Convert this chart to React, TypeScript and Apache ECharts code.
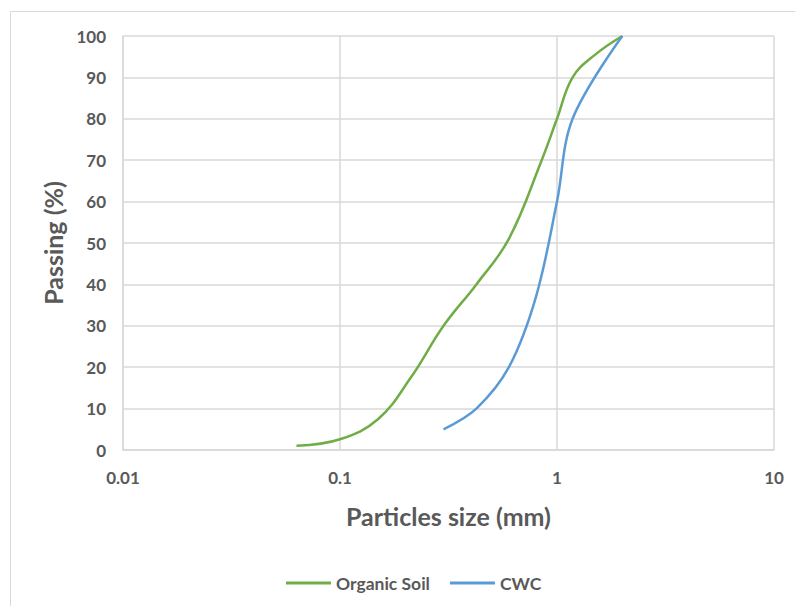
import React, { useEffect, useRef } from "react";
import * as echarts from "echarts";

const organicSize = [0.063, 0.1, 0.15, 0.212, 0.3, 0.425, 0.6, 0.85, 1, 1.18, 1.5, 2];
const organicPassing = [1, 2.6, 7.5, 17.5, 30, 40, 51, 70, 80, 90, 95.5, 100];
const cwcSize = [0.3, 0.425, 0.6, 0.8, 1, 1.18, 2];
const cwcPassing = [5, 10, 20, 37, 60, 80, 100];
const seriesNames = ["Organic Soil", "CWC"];
const xTicks = [0.01, 0.1, 1, 10];

const FONT = "Lato, 'Open Sans', sans-serif";
const GREY = "#595959";

export default function App() {
  const ref = useRef<HTMLDivElement>(null);
  useEffect(() => {
    document.body.style.margin = "0";
    const chart = echarts.init(ref.current!, null, { renderer: "svg" });
    const toPairs = (xs: number[], ys: number[]) => xs.map((x, i) => [x, ys[i]]);
    chart.setOption({
      animation: false,
      textStyle: { fontFamily: FONT },
      graphic: [
        {
          type: "rect",
          shape: { x: 10.5, y: 11.5, width: 820, height: 640 },
          style: { fill: "none", stroke: "#d9d9d9", lineWidth: 1 },
          silent: true,
        },
      ],
      grid: { left: 123, top: 36, right: 21, bottom: 156, containLabel: false },
      legend: {
        left: 281,
        top: 569,
        itemWidth: 45,
        itemHeight: 3,
        itemGap: 20,
        icon: "rect",
        textStyle: { fontFamily: FONT, fontSize: 17.5, fontWeight: "bold", color: GREY },
        data: seriesNames,
      },
      xAxis: {
        type: "log",
        logBase: 10,
        min: xTicks[0],
        max: xTicks[xTicks.length - 1],
        name: "Particles size (mm)",
        nameLocation: "middle",
        nameGap: 53,
        nameTextStyle: { fontFamily: FONT, fontSize: 25, fontWeight: "bold", color: GREY, verticalAlign: "top" },
        axisLine: { show: true, lineStyle: { color: "#d9d9d9", width: 1.5 } },
        axisTick: { show: false },
        axisLabel: {
          margin: 19,
          fontFamily: FONT,
          fontSize: 17,
          fontWeight: "bold",
          color: GREY,
          formatter: (v: number) => String(v),
        },
        splitLine: { show: true, lineStyle: { color: "#d9d9d9", width: 1.5 } },
        minorTick: { show: false },
      },
      yAxis: {
        type: "value",
        min: 0,
        max: 100,
        interval: 10,
        name: "Passing (%)",
        nameLocation: "middle",
        nameGap: 54,
        nameRotate: 90,
        nameTextStyle: { fontFamily: FONT, fontSize: 25, fontWeight: "bold", color: GREY },
        axisLine: { show: true, lineStyle: { color: "#d9d9d9", width: 1.5 } },
        axisTick: { show: false },
        axisLabel: { margin: 17, fontFamily: FONT, fontSize: 17, fontWeight: "bold", color: GREY },
        splitLine: { show: true, lineStyle: { color: "#d9d9d9", width: 1.5 } },
      },
      series: [
        {
          name: seriesNames[0],
          type: "line",
          smooth: 0.4,
          showSymbol: false,
          symbol: "none",
          lineStyle: { color: "#70ad47", width: 2.5 },
          itemStyle: { color: "#70ad47" },
          data: toPairs(organicSize, organicPassing),
        },
        {
          name: seriesNames[1],
          type: "line",
          smooth: 0.35,
          showSymbol: false,
          symbol: "none",
          lineStyle: { color: "#5b9bd5", width: 2.5 },
          itemStyle: { color: "#5b9bd5" },
          data: toPairs(cwcSize, cwcPassing),
        },
      ],
    });
    return () => chart.dispose();
  }, []);
  return <div ref={ref} style={{ width: 795, height: 606 }} />;
}
